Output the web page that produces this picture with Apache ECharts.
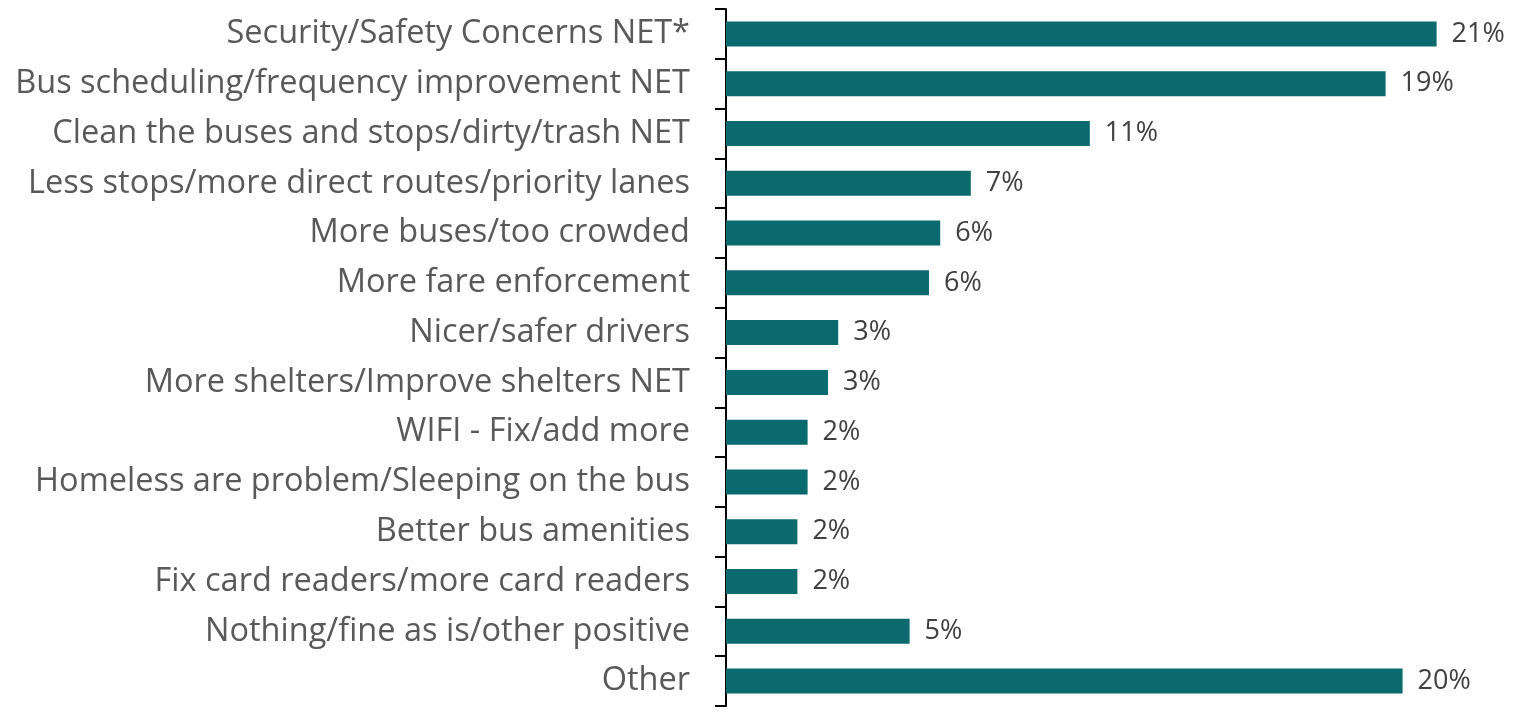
<!DOCTYPE html>
<html>
<head>
<meta charset="utf-8">
<script src="https://cdn.jsdelivr.net/npm/echarts@6/dist/echarts.min.js"></script>
<style>
  html, body { margin: 0; padding: 0; background: #fff; }
  #chart { width: 1519px; height: 714px; }
</style>
</head>
<body>
<div id="chart"></div>
<script>
// categories top to bottom
var categories = [
  'Security/Safety Concerns NET*',
  'Bus scheduling/frequency improvement NET',
  'Clean the buses and stops/dirty/trash NET',
  'Less stops/more direct routes/priority lanes',
  'More buses/too crowded',
  'More fare enforcement',
  'Nicer/safer drivers',
  'More shelters/Improve shelters NET',
  'WIFI - Fix/add more',
  'Homeless are problem/Sleeping on the bus',
  'Better bus amenities',
  'Fix card readers/more card readers',
  'Nothing/fine as is/other positive',
  'Other'
];
// share of mentions, % (bar lengths)
var values = [20.9, 19.4, 10.7, 7.2, 6.3, 5.97, 3.3, 3.0, 2.4, 2.4, 2.1, 2.1, 5.4, 19.9];
// labels as printed
var valueLabels = ['21%', '19%', '11%', '7%', '6%', '6%', '3%', '3%', '2%', '2%', '2%', '2%', '5%', '20%'];

var myChart = echarts.init(document.getElementById('chart'));
var option = {
  animation: false,
  grid: {
    left: 726,
    right: 45,
    top: 9,
    bottom: 8
  },
  xAxis: {
    type: 'value',
    min: 0,
    max: 22,
    show: false
  },
  yAxis: {
    type: 'category',
    inverse: true,
    data: categories,
    axisLine: { show: true, lineStyle: { color: '#000', width: 2 } },
    axisTick: { show: true, length: 11, lineStyle: { color: '#000', width: 2 } },
    axisLabel: {
      color: '#595959',
      fontFamily: 'Open Sans',
      fontSize: 32.5,
      margin: 36
    }
  },
  series: [{
    type: 'bar',
    data: values,
    barWidth: 25,
    itemStyle: { color: '#0a6a6e' },
    label: {
      show: true,
      position: 'right',
      distance: 15,
      color: '#404040',
      fontFamily: 'Open Sans',
      fontSize: 27,
      formatter: function (p) { return valueLabels[p.dataIndex]; }
    }
  }]
};
myChart.setOption(option);
</script>
</body>
</html>
